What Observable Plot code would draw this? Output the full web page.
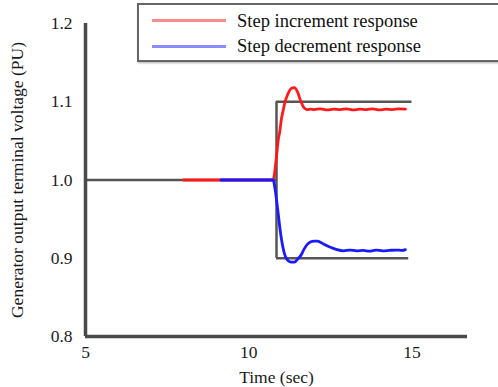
<!DOCTYPE html>
<html><head><meta charset="utf-8">
<script src="https://cdn.jsdelivr.net/npm/d3@7"></script>
<script src="https://cdn.jsdelivr.net/npm/@observablehq/plot@0.6"></script>
<style>
body{margin:0;background:#fff;overflow:hidden;}
#wrap{position:relative;width:498px;height:387px;overflow:hidden;font-family:"Liberation Serif",serif;}
#legend{position:absolute;left:137px;top:3px;width:370px;height:55px;border:2.5px solid #666;background:#fff;box-shadow:1px 1px 2px #aaa;}
.sw{position:absolute;left:13px;width:74px;height:3px;}
.lt{position:absolute;left:98px;font-size:18.5px;line-height:20px;color:#111;white-space:nowrap;}
</style></head>
<body><div id="wrap"></div>
<script>
// data
const seriesNames = ["Step increment response", "Step decrement response"];
const seriesColors = ["#ff1a1a", "#1a1aff"];
const legendColors = ["#ff8c8c", "#8c8cff"];

const incTime = [8.0, 10.75, 10.8, 10.85, 10.9, 10.95, 11.0, 11.05, 11.1, 11.2, 11.3, 11.4, 11.5, 11.6, 11.7, 11.8, 11.9, 12.0, 12.2, 12.4, 12.6, 12.8, 13.0, 13.2, 13.4, 13.6, 13.8, 14.0, 14.2, 14.4, 14.6, 14.8];
const incVolt = [1.0, 1.0, 1.012, 1.03, 1.05, 1.062, 1.078, 1.088, 1.098, 1.11, 1.117, 1.118, 1.112, 1.1, 1.092, 1.09, 1.0905, 1.09, 1.091, 1.0895, 1.0905, 1.09, 1.091, 1.0895, 1.0905, 1.09, 1.091, 1.0895, 1.0905, 1.09, 1.091, 1.0905];

const decTime = [9.15, 10.75, 10.8, 10.85, 10.9, 10.95, 11.0, 11.1, 11.2, 11.3, 11.4, 11.5, 11.6, 11.7, 11.8, 11.9, 12.0, 12.1, 12.3, 12.5, 12.7, 12.9, 13.1, 13.3, 13.5, 13.7, 13.9, 14.1, 14.3, 14.5, 14.7, 14.8];
const decVolt = [1.0, 1.0, 0.99, 0.975, 0.958, 0.94, 0.925, 0.905, 0.897, 0.895, 0.895, 0.899, 0.904, 0.912, 0.918, 0.921, 0.922, 0.922, 0.918, 0.914, 0.911, 0.9095, 0.9105, 0.9095, 0.91, 0.909, 0.9105, 0.9095, 0.91, 0.9105, 0.91, 0.911];

// reference (setpoint) step lines
const refStepTime = 10.85;
const refBefore = {t0: 5, t1: 10.85, v: 1.0};
const refUpper = {t0: 10.85, t1: 15, v: 1.1};
const refLower = {t0: 10.85, t1: 14.9, v: 0.9};

const xTicks = [5, 10, 15];
const yTicks = [0.8, 0.9, 1.0, 1.1, 1.2];
const xDomain = [5, 16.7];
const yDomain = [0.8, 1.2];

const inc = incTime.map((t, i) => ({t, v: incVolt[i]}));
const dec = decTime.map((t, i) => ({t, v: decVolt[i]}));
const refH = [refBefore, refUpper, refLower];

const axisColor = "#4a4a4a";

const chart = Plot.plot({
  width: 498, height: 387,
  marginLeft: 85, marginRight: 31, marginTop: 23, marginBottom: 51,
  style: {fontFamily: "Liberation Serif, serif", fontSize: "17.5px", color: "#1a1a1a", background: "#fff"},
  x: {domain: xDomain, ticks: xTicks, tickSize: 0, tickPadding: 9, label: "Time (sec)", labelAnchor: "center", labelArrow: "none", labelOffset: 46},
  y: {domain: yDomain, ticks: yTicks, tickSize: 0, tickPadding: 13, tickFormat: d3.format(".1f"), label: "Generator output terminal voltage (PU)", labelAnchor: "center", labelArrow: "none", labelOffset: 75},
  marks: [
    Plot.ruleY(refH, {y: "v", x1: "t0", x2: "t1", stroke: "#555", strokeWidth: 2.5}),
    Plot.ruleX([refStepTime], {y1: 0.9, y2: 1.1, stroke: "#555", strokeWidth: 2.5}),
    Plot.line(inc, {x: "t", y: "v", stroke: seriesColors[0], strokeWidth: 2.8, curve: "monotone-x"}),
    Plot.line(dec, {x: "t", y: "v", stroke: seriesColors[1], strokeWidth: 2.8, curve: "monotone-x"}),
    Plot.ruleX([xDomain[0]], {y1: yDomain[0], y2: yDomain[1], stroke: axisColor, strokeWidth: 3.5}),
    Plot.ruleY([yDomain[0]], {x1: xDomain[0], x2: xDomain[1], stroke: axisColor, strokeWidth: 3.5})
  ]
});
const wrap = document.getElementById("wrap");
wrap.appendChild(chart);

const legend = document.createElement("div");
legend.id = "legend";
seriesNames.forEach((name, i) => {
  const sw = document.createElement("div");
  sw.className = "sw";
  sw.style.top = (14 + i * 26) + "px";
  sw.style.background = legendColors[i];
  legend.appendChild(sw);
  const lt = document.createElement("div");
  lt.className = "lt";
  lt.style.top = (6 + i * 25) + "px";
  lt.textContent = name;
  legend.appendChild(lt);
});
wrap.appendChild(legend);
</script></body></html>
